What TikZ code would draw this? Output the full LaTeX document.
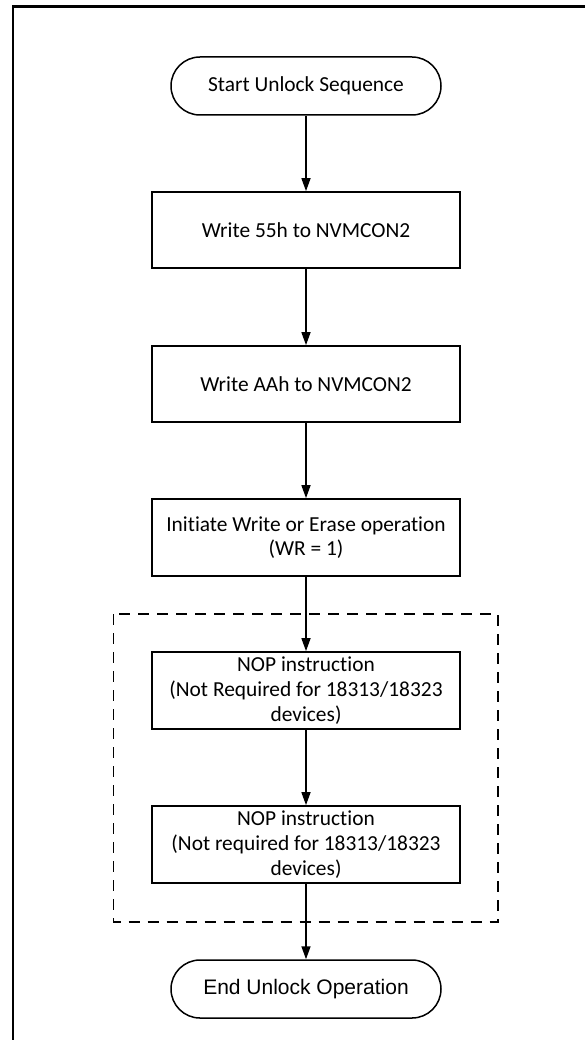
\documentclass[tikz,border=0pt]{standalone}
\usepackage{fontspec}
\setmainfont[Ligatures=NoCommon]{Carlito}
\newfontfamily\arialfont{Liberation Sans}
\usetikzlibrary{arrows.meta}
\begin{document}
\begin{tikzpicture}[x=1pt,y=-1pt,
  every node/.style={align=center,inner sep=0pt,font=\fontsize{21.4}{24.7}\selectfont},
  terminal/.style={draw,line width=1.5pt,rounded corners=29pt,minimum width=270pt,minimum height=58pt},
  procbox/.style={draw,line width=1.7pt,minimum width=308pt,minimum height=77pt},
  flow/.style={line width=1.5pt,-{Triangle[length=13pt,width=9pt]}},
  groupbox/.style={draw,line width=1.6pt,dash pattern=on 11pt off 8pt}
]
\useasboundingbox (0,0) rectangle (585,1040);
% page frame
\draw[line width=2.4pt] (585,6.5) -- (12.7,6.5) -- (12.7,1040);
% dashed group
\draw[groupbox] (113.3,614) rectangle (497.7,921.7);
\node[terminal] (start) at (306,86) {Start Unlock Sequence};
\node[procbox,minimum height=76pt] (b1) at (306,230) {Write 55h to NVMCON2};
\node[procbox,minimum height=76pt] (b2) at (306,384) {Write AAh to NVMCON2};
\node[procbox] (b3) at (306,537.5) {Initiate Write or Erase operation\\(WR = 1)};
\node[procbox] (b4) at (306,690.5) {NOP instruction\\(Not Required for 18313/18323\\devices)};
\node[procbox] (b5) at (306,844.5) {NOP instruction\\(Not required for 18313/18323\\devices)};
\node[terminal,font=\arialfont\fontsize{21}{24}\selectfont] (end) at (306,989) {End Unlock Operation};
\draw[flow] (start) -- (b1);
\draw[flow] (b1) -- (b2);
\draw[flow] (b2) -- (b3);
\draw[flow] (b3) -- (b4);
\draw[flow] (b4) -- (b5);
\draw[flow] (b5) -- (end);
\end{tikzpicture}
\end{document}
